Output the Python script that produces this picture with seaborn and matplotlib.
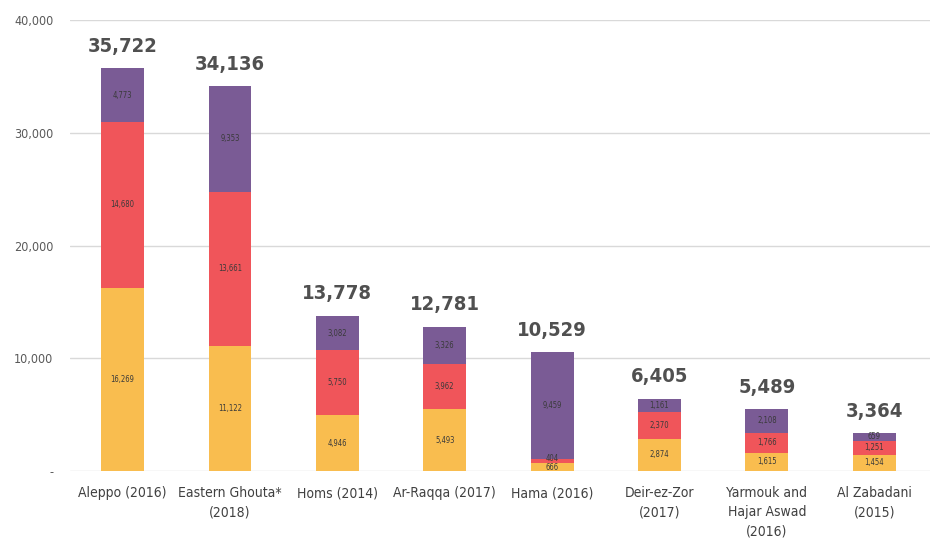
import matplotlib
matplotlib.use("Agg")
import matplotlib.pyplot as plt
import seaborn as sns
import pandas as pd

# data
cities = ["Aleppo (2016)", "Eastern Ghouta*\n(2018)", "Homs (2014)", "Ar-Raqqa (2017)",
          "Hama (2016)", "Deir-ez-Zor\n(2017)", "Yarmouk and\nHajar Aswad\n(2016)", "Al Zabadani\n(2015)"]
yellow_vals = [16269, 11122, 4946, 5493, 666, 2874, 1615, 1454]
red_vals = [14680, 13661, 5750, 3962, 404, 2370, 1766, 1251]
purple_vals = [4773, 9353, 3082, 3326, 9459, 1161, 2108, 659]
y_ticks = [0, 10000, 20000, 30000, 40000]

colors = {"yellow": "#F9BD4F", "red": "#F0555A", "purple": "#7A5B95"}

sns.set_style("white")
plt.rcParams["font.family"] = ["DejaVu Sans"]
plt.rcParams["font.stretch"] = "condensed"

df = pd.DataFrame({"city": cities, "yellow": yellow_vals, "red": red_vals, "purple": purple_vals})
df["c1"] = df["yellow"]
df["c2"] = df["c1"] + df["red"]
df["c3"] = df["c2"] + df["purple"]

fig = plt.figure(figsize=(9.31, 5.39), dpi=100)
ax = fig.add_axes([70 / 931, 1 - 471 / 539, 860 / 931, 451 / 539])

# stacked bars: draw cumulative heights from the top down
for col, key in [("c3", "purple"), ("c2", "red"), ("c1", "yellow")]:
    sns.barplot(data=df, x="city", y=col, color=colors[key], width=0.4,
                saturation=1, ax=ax, linewidth=0)

# segment labels
for i, row in df.iterrows():
    bottoms = [0, row["c1"], row["c2"]]
    for b, key in zip(bottoms, ["yellow", "red", "purple"]):
        v = row[key]
        ax.annotate(f"{v:,}", (i, b + v / 2), ha="center", va="center",
                    fontsize=5.5, color="#3a3a3a",
                    xytext=(0, 2 if v < 1000 and key == "red" else 0),
                    textcoords="offset points")
    ax.annotate(f"{row['c3']:,}", (i, row["c3"]), xytext=(0, 9),
                textcoords="offset points", ha="center", va="bottom",
                fontsize=14.5, fontweight="bold", color="#505050")

ax.set_ylim(0, 40000)
ax.set_xlim(-0.49, 7.52)
ax.set_yticks(y_ticks)
ax.set_yticklabels(["-" if t == 0 else f"{t:,}" for t in y_ticks],
                   fontsize=9, color="#595959")
ax.tick_params(axis="y", length=0, pad=12)
ax.tick_params(axis="x", length=0, pad=11, labelsize=10, labelcolor="#404040")
for lbl in ax.get_xticklabels():
    lbl.set_linespacing(1.45)
ax.yaxis.grid(True, color="#d9d9d9", linewidth=1)
ax.set_axisbelow(True)
for s in ax.spines.values():
    s.set_visible(False)
ax.set_xlabel("")
ax.set_ylabel("")

fig.savefig("out.png", dpi=100)
